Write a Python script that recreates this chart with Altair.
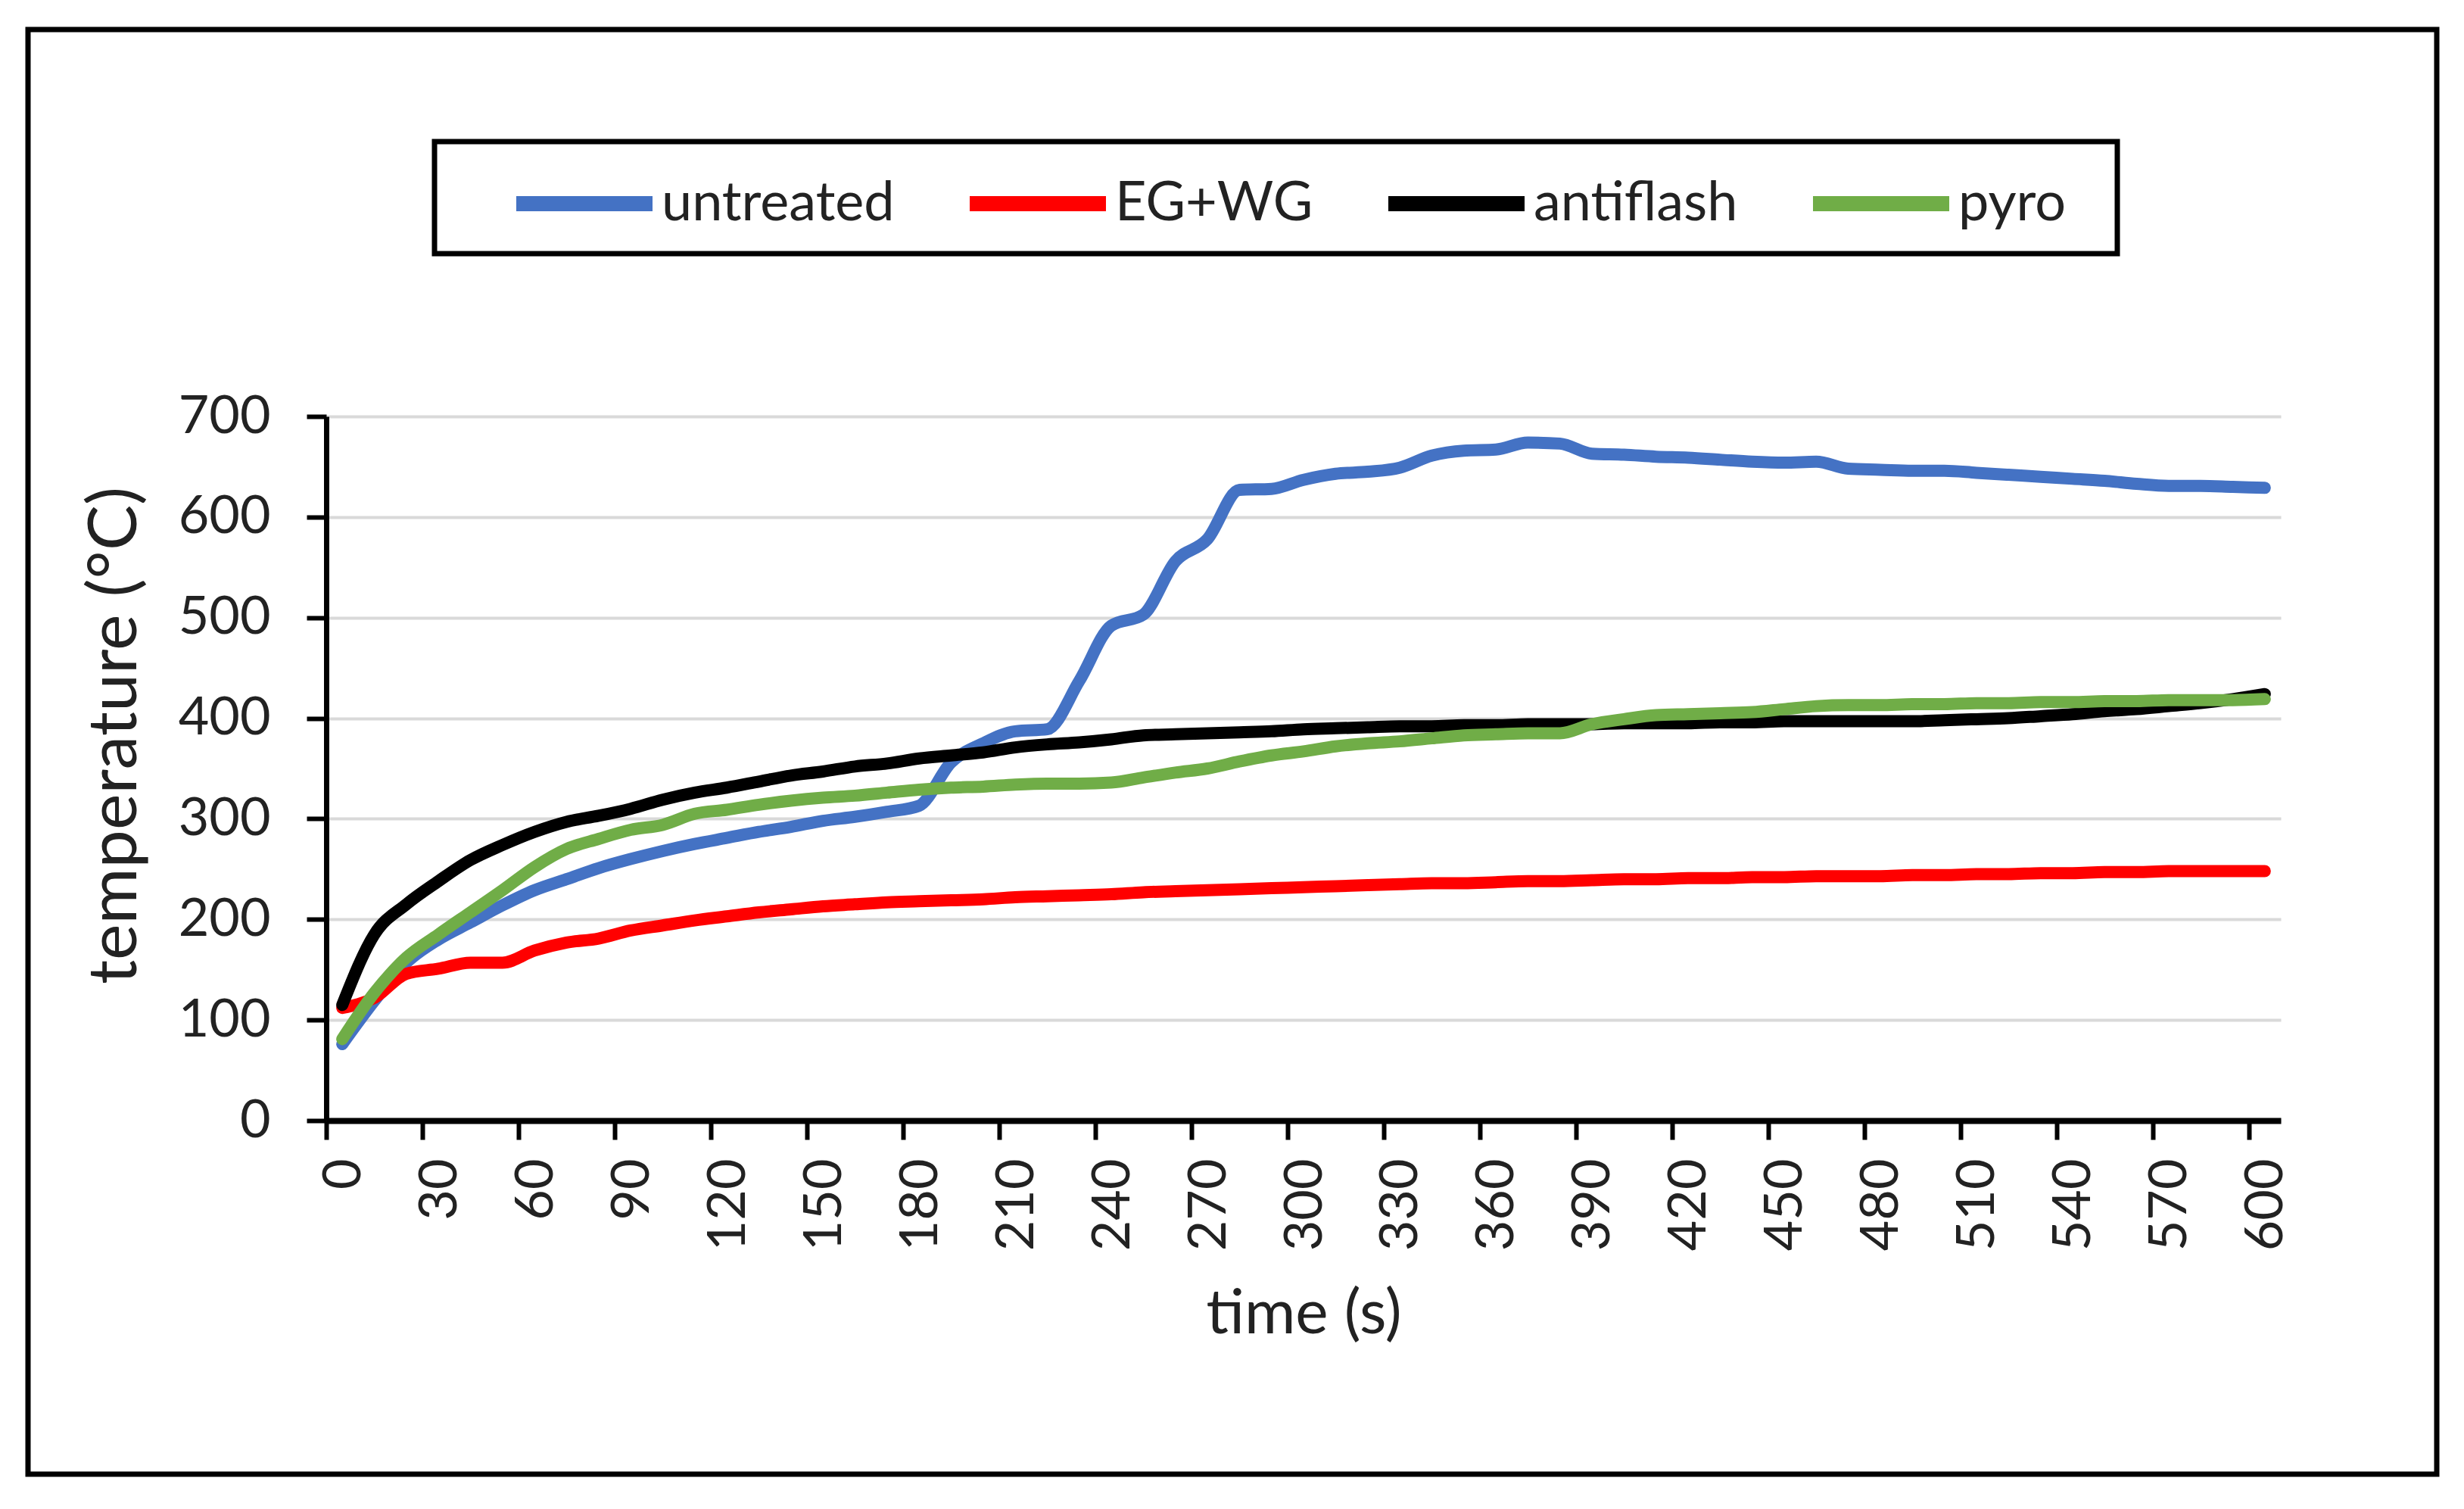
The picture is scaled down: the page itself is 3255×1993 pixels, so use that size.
import altair as alt
import pandas as pd

# time axis, one reading every 10 s
time_s = list(range(0, 601, 10))

untreated = [76, 119, 157, 180, 197, 214, 229, 240, 251, 260,
             268, 275, 281, 287, 292, 298, 302, 307, 313, 356,
             375, 387, 389, 437, 492, 503, 556, 578, 627, 628,
             637, 643, 645, 649, 661, 666, 667, 674, 673, 663,
             662, 660, 659, 657, 655, 654, 655, 648, 647, 646,
             646, 644, 642, 640, 638, 636, 633, 631, 631, 630,
             629]
eg_wg = [112, 122, 146, 151, 157, 157, 169, 177, 181, 189,
         194, 199, 203, 207, 210, 213, 215, 217, 218, 219,
         220, 222, 223, 224, 225, 227, 228, 229, 230, 231,
         232, 233, 234, 235, 236, 236, 237, 238, 238, 239,
         240, 240, 241, 241, 242, 242, 243, 243, 243, 244,
         244, 245, 245, 246, 246, 247, 247, 248, 248, 248,
         248]
antiflash = [115, 185, 215, 238, 259, 274, 287, 297, 303, 310,
             319, 326, 331, 337, 343, 347, 352, 355, 360, 363,
             366, 371, 374, 376, 379, 383, 384, 385, 386, 387,
             389, 390, 391, 392, 392, 393, 393, 394, 394, 394,
             395, 395, 395, 396, 396, 397, 397, 397, 397, 397,
             398, 399, 400, 402, 404, 407, 409, 412, 415, 419,
             424]
pyro = [81, 127, 162, 185, 207, 229, 252, 270, 280, 289,
        294, 305, 309, 314, 318, 321, 323, 326, 329, 331,
        332, 334, 335, 335, 336, 341, 346, 350, 357, 363,
        367, 372, 375, 377, 380, 383, 384, 385, 385, 394,
        399, 403, 404, 405, 406, 409, 412, 413, 413, 414,
        414, 415, 415, 416, 416, 417, 417, 418, 418, 418,
        419]

series_names = ["untreated", "EG+WG", "antiflash", "pyro"]
series_colors = ["#4472C4", "#FF0000", "#000000", "#70AD47"]
x_ticks = list(range(0, 601, 30))
y_ticks = list(range(0, 701, 100))

rows = []
for name, values in zip(series_names, [untreated, eg_wg, antiflash, pyro]):
    for t, v in zip(time_s, values):
        rows.append({"time": t, "temperature": v, "series": name})
df = pd.DataFrame(rows)

FONT = "Lato"
TEXT = "#222222"

lines = alt.Chart(df).mark_line(
    strokeWidth=16, strokeCap="round", strokeJoin="round", interpolate="monotone"
).encode(
    x=alt.X("time:Q",
            scale=alt.Scale(domain=[-5, 605], nice=False, zero=False),
            axis=alt.Axis(values=x_ticks, title="time (s)", grid=False,
                          domainColor="black", domainWidth=8,
                          tickColor="black", tickWidth=6, tickSize=25,
                          tickOffset=-21, labelOffset=23,
                          labelAngle=270, labelPadding=25,
                          labelFontSize=70, titleFontSize=82,
                          titleY=280, titleBaseline="alphabetic")),
    y=alt.Y("temperature:Q",
            scale=alt.Scale(domain=[0, 700], nice=False),
            axis=alt.Axis(values=y_ticks, title="temperature (°C)",
                          grid=True, gridColor="#D9D9D9", gridWidth=4,
                          domainColor="black", domainWidth=7,
                          tickColor="black", tickWidth=6, tickSize=26,
                          labelPadding=48, labelFontSize=70,
                          titleFontSize=90, titleX=-252, titleY=421,
                          titleBaseline="alphabetic")),
    color=alt.Color("series:N",
                    scale=alt.Scale(domain=series_names, range=series_colors),
                    sort=series_names,
                    legend=alt.Legend(title=None, orient="none",
                                      legendX=241, legendY=-381,
                                      direction="horizontal", columns=4,
                                      symbolType="stroke", symbolSize=32400,
                                      symbolStrokeWidth=20,
                                      labelFontSize=72, labelOffset=2,
                                      labelLimit=600,
                                      columnPadding=59, padding=0)),
)

one = pd.DataFrame({"k": [0]})

# outer figure frame and legend frame
frame = alt.Chart(one).mark_rect(fillOpacity=0, stroke="black", strokeWidth=7).encode(
    x=alt.value(-394), x2=alt.value(2788), y=alt.value(-511), y2=alt.value(1397)
)
legend_box = alt.Chart(one).mark_rect(fillOpacity=0, stroke="black", strokeWidth=7).encode(
    x=alt.value(143), x2=alt.value(2366), y=alt.value(-363), y2=alt.value(-215)
)

chart = alt.layer(frame, legend_box, lines).properties(
    width=2582,
    height=930,
    autosize=alt.AutoSizeParams(type="none"),
    padding={"left": 423, "top": 542, "right": 234, "bottom": 505},
    background="white",
).configure_axis(
    labelFont=FONT, titleFont=FONT, labelColor=TEXT, titleColor=TEXT,
    titleFontWeight="normal",
).configure_legend(
    labelFont=FONT, labelColor=TEXT,
).configure_view(
    stroke="transparent",
)

chart.save("out.html", embed_options={"renderer": "svg", "actions": False})
